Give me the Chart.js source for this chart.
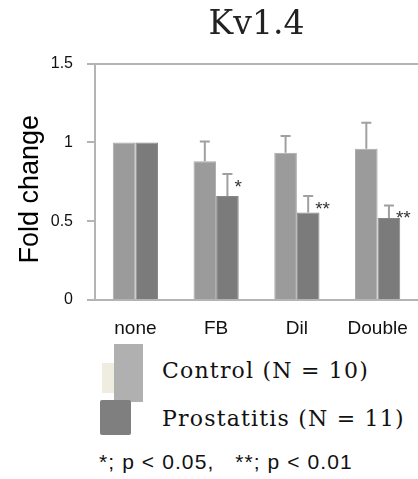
<!DOCTYPE html>
<html>
<head>
<meta charset="utf-8">
<script src="https://cdn.jsdelivr.net/npm/chart.js@4"></script>
<style>
  body { margin: 0; background: #fff; }
  #wrap { position: relative; width: 418px; height: 479px; overflow: hidden; background: #fff; }
  #chart-box { position: absolute; left: 0; top: 0; width: 418px; height: 342px; }
  .swatch { position: absolute; }
  .legend-text { position: absolute; font-family: 'DejaVu Serif', serif; font-size: 22px; letter-spacing: 1.2px; color: #111; white-space: nowrap; line-height: 1; }
  #note { position: absolute; left: 99px; top: 451px; font-family: 'Liberation Sans', Arial, sans-serif; font-size: 21px; letter-spacing: 1.1px; color: #111; white-space: pre; line-height: 1; }
</style>
</head>
<body>
<div id="wrap">
  <div id="chart-box"><canvas id="kv-chart" width="418" height="342"></canvas></div>
  <div class="swatch" style="left:102px;top:363px;width:13px;height:30px;background:#efece0;"></div>
  <div class="swatch" style="left:114px;top:344px;width:29px;height:58px;background:#b0b0b0;"></div>
  <div class="swatch" style="left:100px;top:400px;width:31px;height:35px;background:#7f7f7f;border-radius:2px;"></div>
  <div class="legend-text" style="left:162px;top:360px;">Control (N = 10)</div>
  <div class="legend-text" style="left:162px;top:408px;">Prostatitis (N = 11)</div>
  <div id="note">*; p &lt; 0.05,   **; p &lt; 0.01</div>
</div>
<script>
document.addEventListener('DOMContentLoaded', () => {
    // --- DATA ---
    const categories = ['none', 'FB', 'Dil', 'Double'];
    const controlValues = [1.0, 0.88, 0.935, 0.96];
    const controlErrors = [0, 0.125, 0.105, 0.165];
    const prostatitisValues = [1.0, 0.66, 0.555, 0.52];
    const prostatitisErrors = [0, 0.14, 0.105, 0.08];
    const significance = ['', '*', '**', '**'];
    const yTicks = [0, 0.5, 1, 1.5];

    const AXIS_GRAY = '#b4b4b4';
    const SANS = "'Liberation Sans', Arial, sans-serif";

    // draws upper error bars and the stars next to the prostatitis bars
    const errorBarPlugin = {
        id: 'errorBars',
        afterDatasetsDraw(chart) {
            const ctx = chart.ctx;
            const yScale = chart.scales.y;
            chart.data.datasets.forEach((ds, di) => {
                const meta = chart.getDatasetMeta(di);
                meta.data.forEach((bar, i) => {
                    const err = ds.errors[i];
                    if (!err) return;
                    const top = yScale.getPixelForValue(ds.data[i] + err);
                    ctx.save();
                    ctx.strokeStyle = '#a0a0a0';
                    ctx.lineWidth = 2;
                    ctx.beginPath();
                    ctx.moveTo(bar.x, bar.y);
                    ctx.lineTo(bar.x, top);
                    ctx.moveTo(bar.x - 5, top);
                    ctx.lineTo(bar.x + 5, top);
                    ctx.stroke();
                    if (ds.stars && ds.stars[i]) {
                        ctx.fillStyle = '#333';
                        ctx.font = '19px ' + SANS;
                        ctx.textAlign = 'left';
                        ctx.textBaseline = 'top';
                        ctx.fillText(ds.stars[i], bar.x + 7, top + 4);
                    }
                    ctx.restore();
                });
            });
        }
    };

    const ctx = document.getElementById('kv-chart').getContext('2d');
    new Chart(ctx, {
        type: 'bar',
        data: {
            labels: categories,
            datasets: [
                { label: 'Control (N = 10)', data: controlValues, errors: controlErrors,
                  backgroundColor: '#9b9b9b', borderColor: '#a9a9a9', borderWidth: 1,
                  barPercentage: 1, categoryPercentage: 0.56 },
                { label: 'Prostatitis (N = 11)', data: prostatitisValues, errors: prostatitisErrors, stars: significance,
                  backgroundColor: '#7b7b7b', borderColor: '#888', borderWidth: 1,
                  barPercentage: 1, categoryPercentage: 0.56 }
            ]
        },
        options: {
            responsive: false,
            animation: false,
            layout: { padding: 0 },
            plugins: {
                legend: { display: false },
                tooltip: { enabled: false },
                title: {
                    display: true,
                    text: 'Kv1.4',
                    fullSize: false,
                    color: '#222',
                    font: { family: "'DejaVu Serif', serif", size: 33, weight: 'normal' },
                    padding: { top: 6, bottom: 18 }
                }
            },
            scales: {
                x: {
                    grid: { display: false },
                    border: { display: true, color: AXIS_GRAY, width: 2 },
                    ticks: { color: '#111', padding: 9, font: { family: SANS, size: 19 } },
                    afterFit(scale) { scale.height = 42; }
                },
                y: {
                    min: 0,
                    max: 1.5,
                    afterBuildTicks(scale) { scale.ticks = yTicks.map(v => ({ value: v })); },
                    grid: {
                        drawOnChartArea: true,
                        color: c => (c.tick && c.tick.value === 1.5) ? AXIS_GRAY : 'rgba(0,0,0,0)',
                        tickColor: AXIS_GRAY,
                        tickLength: 8,
                        lineWidth: 2
                    },
                    border: { display: true, color: AXIS_GRAY, width: 2 },
                    ticks: {
                        color: '#111',
                        padding: 14,
                        font: { family: SANS, size: 16 },
                        callback: v => String(v)
                    },
                    title: {
                        display: true,
                        text: 'Fold change  ',
                        color: '#000',
                        font: { family: SANS, size: 27 },
                        padding: { top: 14, bottom: 0 }
                    },
                    afterFit(scale) { scale.width = 95; }
                }
            }
        },
        plugins: [errorBarPlugin]
    });
});
</script>
</body>
</html>
